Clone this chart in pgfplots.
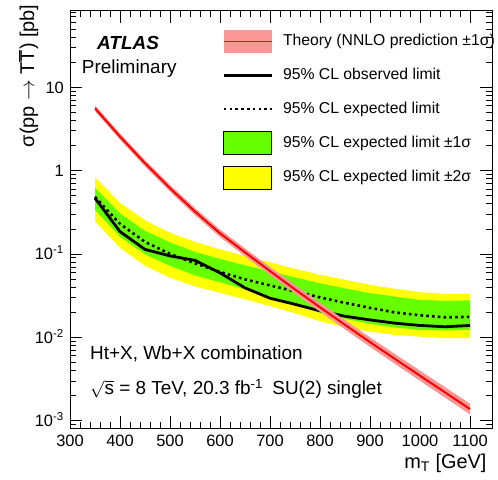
\documentclass[border=0pt]{standalone}
\usepackage{fontspec}
\setmainfont{Liberation Sans}
\usepackage{pgfplots}
\pgfplotsset{compat=1.18}
\definecolor{bandgreen}{RGB}{102,255,0}
\definecolor{bandyellow}{RGB}{255,255,0}
\definecolor{theopink}{RGB}{250,150,150}
\definecolor{theored}{RGB}{255,0,0}

\begin{document}
\begin{tikzpicture}
\begin{axis}[
  scale only axis, width=422bp, height=417.6bp,
  ymode=log, log basis y=10,
  xmin=300, xmax=1144, ymin=8.11e-4, ymax=82.9,
  axis line style={line width=0.9bp},
  every tick/.style={black, line width=0.8bp},
  major tick length=12bp, minor tick length=6bp,
  tick align=inside,
  xtick={300,400,500,600,700,800,900,1000,1100}, minor x tick num=4,
  xticklabels={300,400,500,600,700,800,900,1000,1100},
  xticklabel style={font=\fontsize{16.5}{19}\selectfont, anchor=base, yshift=-18.4bp},
  yticklabel={\pgfmathtruncatemacro{\myexp}{round(\tick)}\ifnum\myexp=0 1\else\ifnum\myexp=1 10\else 10\textsuperscript{\myexp}\fi\fi},
  yticklabel style={font=\fontsize{16.5}{19}\selectfont, anchor=base east, inner xsep=0pt, xshift=-6bp, yshift=-5.9bp},
  xlabel={m\textsubscript{T} [GeV]},
  xlabel style={font=\fontsize{20}{24}\selectfont, at={(axis description cs:1,0)}, anchor=base east, xshift=-2bp, yshift=-39.7bp},
  ylabel={σ(pp $\rightarrow$ T$\overline{\mbox{T}}$) [pb]},
  ylabel style={font=\fontsize{20}{24}\selectfont, at={(axis description cs:-0.0853,1.0232)}, anchor=base east},
  legend cell align=left,
  legend style={draw=none, fill=none, at={(axis description cs:0.3609,0.9533)}, anchor=north west,
    inner sep=0pt, outer sep=0pt, row sep=10.7bp, column sep=10bp,
    font=\fontsize{15.8}{18}\selectfont, cells={anchor=west},
    nodes={inner sep=0pt, text height=11.5bp, text depth=3.5bp}},
]
\addlegendimage{legend image code/.code={\path[fill=theopink,draw=none] (0bp,-11.5bp) rectangle (48bp,11.5bp); \path[draw=theored,line width=1.4bp] (0bp,0bp) -- (48bp,0bp);}}
\addlegendentry{Theory (NNLO prediction ±1σ)}
\addlegendimage{legend image code/.code={\path[draw=none,fill=none] (0bp,-11.5bp) rectangle (48bp,11.5bp); \path[draw=black,line width=2.8bp] (0bp,0bp) -- (48bp,0bp);}}
\addlegendentry{95\% CL observed limit}
\addlegendimage{legend image code/.code={\path[draw=none,fill=none] (0bp,-11.5bp) rectangle (48bp,11.5bp); \path[draw=black,line width=2.6bp,dash pattern=on 2.6bp off 3.2bp] (0bp,0bp) -- (48bp,0bp);}}
\addlegendentry{95\% CL expected limit}
\addlegendimage{legend image code/.code={\path[draw=black,fill=bandgreen,line width=0.8bp] (0bp,-11.5bp) rectangle (48bp,11.5bp);}}
\addlegendentry{95\% CL expected limit ±1σ}
\addlegendimage{legend image code/.code={\path[draw=black,fill=bandyellow,line width=0.8bp] (0bp,-11.5bp) rectangle (48bp,11.5bp);}}
\addlegendentry{95\% CL expected limit ±2σ}

% +-2 sigma band
\addplot[fill=bandyellow, draw=none, forget plot] coordinates {
(350,0.829) (400,0.410) (450,0.2529) (500,0.1791) (550,0.1397) (600,0.1135) (650,0.0949) (700,0.0793)
(750,0.0663) (800,0.0562) (850,0.0489) (900,0.0426) (950,0.0382) (1000,0.0348) (1050,0.0332) (1100,0.0332)
(1100,0.00978) (1050,0.00978) (1000,0.0102) (950,0.0107) (900,0.0117) (850,0.0132) (800,0.0156) (750,0.0194)
(700,0.0238) (650,0.0285) (600,0.0342) (550,0.0409) (500,0.0517) (450,0.0720) (400,0.1183) (350,0.2446)
} -- cycle;
% +-1 sigma band
\addplot[fill=bandgreen, draw=none, forget plot] coordinates {
(350,0.620) (400,0.3067) (450,0.1892) (500,0.1377) (550,0.1060) (600,0.0873) (650,0.0730) (700,0.0618)
(750,0.0524) (800,0.0444) (850,0.0387) (900,0.0339) (950,0.0308) (1000,0.0282) (1050,0.0274) (1100,0.0278)
(1100,0.0123) (1050,0.0121) (1000,0.0123) (950,0.0131) (900,0.0145) (850,0.0167) (800,0.0197) (750,0.0252)
(700,0.0310) (650,0.0376) (600,0.0457) (550,0.0554) (500,0.0720) (450,0.0989) (400,0.1603) (350,0.338)
} -- cycle;
% expected
\addplot[black, line width=2.6bp, dash pattern=on 2.6bp off 3.2bp, forget plot] coordinates {
(350,0.484) (400,0.2296) (450,0.1397) (500,0.1003) (550,0.0771) (600,0.0610) (650,0.0496) (700,0.0420)
(750,0.0356) (800,0.0302) (850,0.0259) (900,0.0226) (950,0.0199) (1000,0.0184) (1050,0.0174) (1100,0.0176)
};
% observed
\addplot[black, line width=2.8bp, forget plot] coordinates {
(350,0.467) (400,0.1856) (450,0.1135) (500,0.0949) (550,0.0838) (600,0.0593) (650,0.0392) (700,0.0295)
(750,0.0249) (800,0.0208) (850,0.0179) (900,0.0162) (950,0.0148) (1000,0.0139) (1050,0.0134) (1100,0.0139)
};
% theory band
\addplot[fill=theopink, draw=none, forget plot] coordinates {
(350,6.07) (400,2.787) (450,1.340) (500,0.6746) (550,0.3556) (600,0.1963) (650,0.1166) (700,0.06979)
(750,0.04228) (800,0.02589) (850,0.01604) (900,0.01000) (950,0.006297) (1000,0.003990) (1050,0.002529) (1100,0.001602)
(1100,0.001189) (1050,0.001893) (1000,0.003012) (950,0.004795) (900,0.007693) (850,0.01245) (800,0.02027) (750,0.03340)
(700,0.05574) (650,0.0940) (600,0.1596) (550,0.2918) (500,0.5585) (450,1.120) (400,2.350) (350,5.16)
} -- cycle;
% theory central
\addplot[theored, line width=2bp, forget plot] coordinates {
(350,5.598) (400,2.559) (450,1.225) (500,0.6138) (550,0.3221) (600,0.1770) (650,0.1047) (700,0.06237)
(750,0.03758) (800,0.02291) (850,0.01413) (900,0.008770) (950,0.005495) (1000,0.003467) (1050,0.002188) (1100,0.001380)
};

\node[anchor=base west, inner sep=0pt, font=\fontsize{19}{22}\selectfont\bfseries\itshape] at (axis description cs:0.064,0.906) {ATLAS};
\node[anchor=base west, inner sep=0pt, font=\fontsize{19}{22}\selectfont] at (axis description cs:0.0277,0.8496) {Preliminary};
\node[anchor=base west, inner sep=0pt, font=\fontsize{19}{22}\selectfont] at (axis description cs:0.0474,0.1636) {Ht+X, Wb+X combination};
\node[anchor=base west, inner sep=0pt, font=\fontsize{19}{22}\selectfont] at (axis description cs:0.0474,0.0798) {$\sqrt{\mbox{s}}$ = 8 TeV, 20.3 fb\textsuperscript{-1}\hspace{0.5em}SU(2) singlet};
\end{axis}
\pgfresetboundingbox
\path[use as bounding box] ([shift={(-70bp,-50.7bp)}]current axis.south west) rectangle ([shift={(6bp,10.7bp)}]current axis.north east);
\end{tikzpicture}
\end{document}
